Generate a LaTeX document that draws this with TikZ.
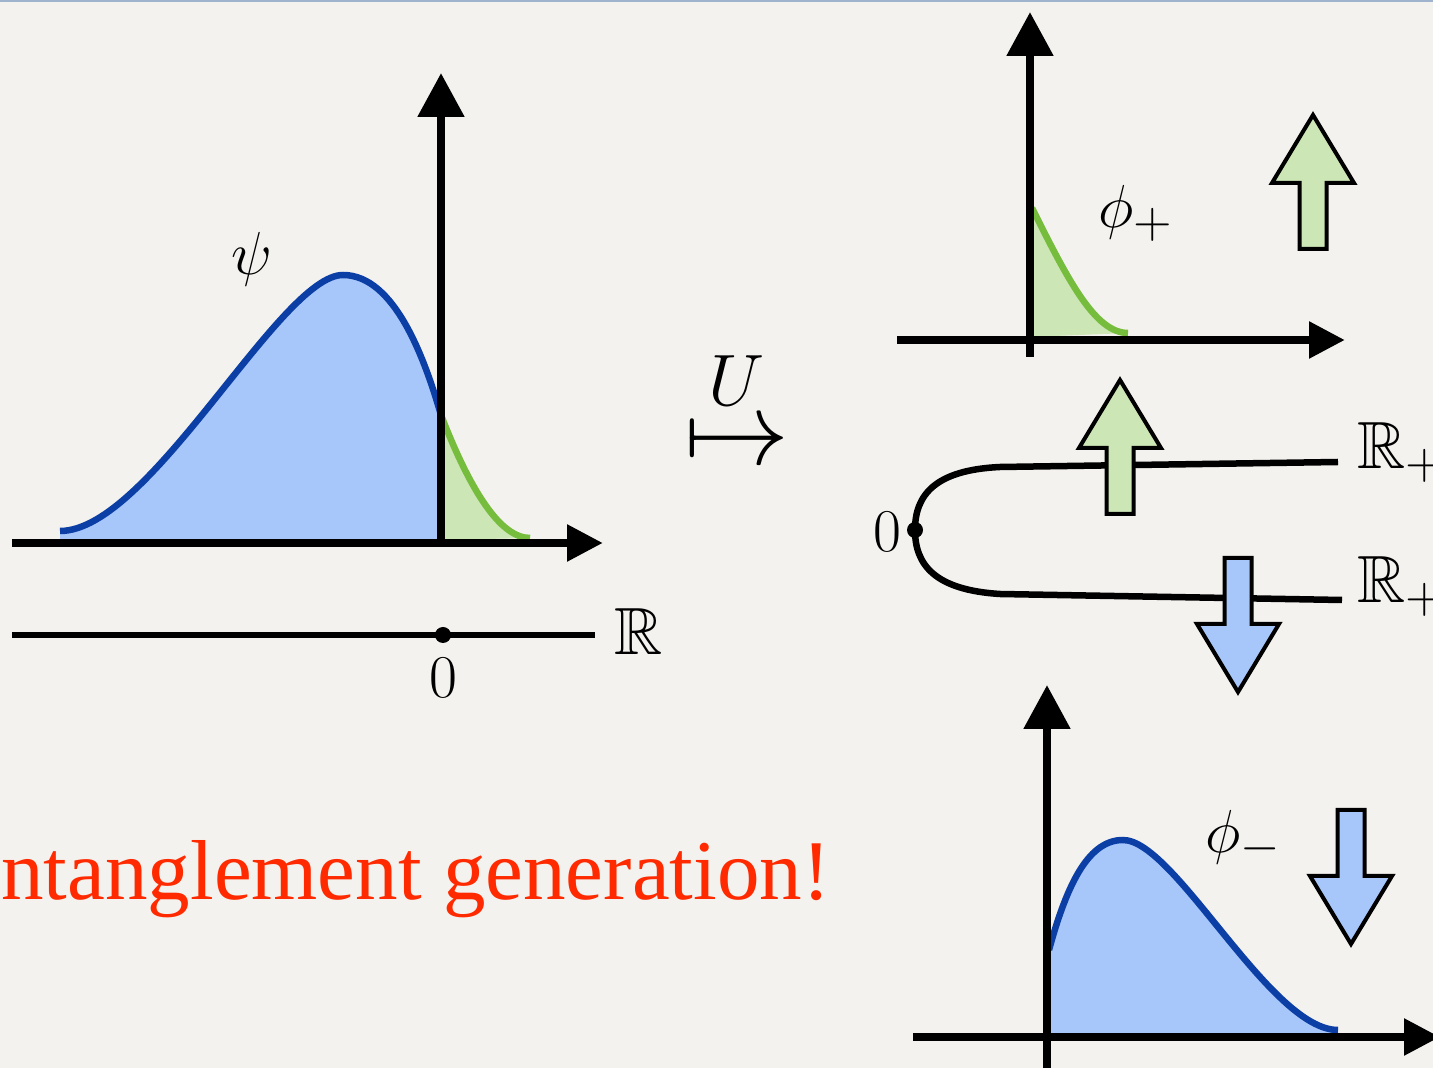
\documentclass[tikz,border=0pt]{standalone}
\usepackage{amsmath, amssymb}
\usepackage{graphicx}
\usepackage{fontspec}
\newfontfamily\slidefont{Liberation Serif}
\usepackage{tikz}
\usetikzlibrary{arrows.meta}

\definecolor{paper}{HTML}{F4F2EE}
\definecolor{rimblue}{HTML}{9FB3CE}
\definecolor{psiblue}{HTML}{0B3FA6}
\definecolor{psifill}{HTML}{A7C6FA}
\definecolor{phigreen}{HTML}{76BD3E}
\definecolor{phifill}{HTML}{CDE6B6}
\definecolor{slidered}{HTML}{FF2A00}

\tikzset{
  axis/.style={line width=0.85mm, -{Triangle[length=4.4mm, width=4.5mm]}},
  flataxis/.style={line width=0.85mm, -{Triangle[length=3.6mm, width=3.5mm]}},
  halfline/.style={line width=0.65mm},
  wave/.style={line width=0.65mm},
  blockarrow/.style={line width=0.4mm, draw=black, line join=miter},
  lbl/.style={inner sep=0pt, font=\fontsize{19}{22}\selectfont},
}

\begin{document}
\begin{tikzpicture}[x=0.1mm, y=-0.1mm]
  \clip (0,0) rectangle (1433,1068);
  \fill[paper] (0,0) rectangle (1433,1068);
  \fill[rimblue] (0,0) rectangle (1433,2);

  % psi on the real line
  \fill[psifill] (60,540) -- (60,531) .. controls (150,531) and (280,275) .. (343,275)
    .. controls (395,275) and (425,360) .. (441,415) -- (441,540) -- cycle;
  \fill[phifill] (441,540) -- (441,415) .. controls (470,490) and (500,538) .. (530,538) -- cycle;
  \draw[wave, psiblue] (60,531) .. controls (150,531) and (280,275) .. (343,275)
    .. controls (395,275) and (425,360) .. (441,415);
  \draw[wave, phigreen] (441,415) .. controls (470,490) and (500,538) .. (530,538);
  \draw[flataxis] (12,543) -- (603,543);
  \draw[axis] (441,543) -- (441,73);
  \node[lbl, anchor=base] (psi) at (252,275) {$\psi$};

  % the real line with its origin
  \draw[halfline] (12,635) -- (595,635);
  \fill (443,635) circle (8);
  \node[lbl, anchor=base] (zeroL) at (443,698) {$0$};
  \node[lbl, anchor=base west] (realL) at (614,655) {$\mathbb{R}$};

  % the map U
  \node[inner sep=0pt, font=\fontsize{30}{33}\selectfont] (mapU) at (737,405)
    {$\overset{U}{\scalebox{1.2}{$\mapsto$}}$};

  % phi_+ on the upper half line
  \fill[phifill] (1030,337) -- (1030,205) .. controls (1068,280) and (1095,333) .. (1128,333) -- cycle;
  \draw[wave, phigreen] (1032,208) .. controls (1068,280) and (1095,333) .. (1128,333);
  \draw[flataxis] (897,340) -- (1345,340);
  \draw[axis] (1030,357) -- (1030,12);
  \node[lbl, anchor=base west] (phiP) at (1098,228) {$\phi_+$};

  % two half lines glued at 0
  \coordinate (glue) at (915,530);
  \draw[halfline] (1338,462) -- (1000,467) .. controls (935,470) and (915,495) .. (glue)
    .. controls (915,565) and (935,590) .. (1000,594) -- (1342,600);
  \fill (glue) circle (8);
  \node[lbl, anchor=base] (zeroM) at (887,552) {$0$};
  \node[lbl, anchor=base west] (realP) at (1357,469) {$\mathbb{R}_+$};
  \node[lbl, anchor=base west] (realM) at (1357,603) {$\mathbb{R}_+$};

  % phi_- on the lower half line
  \fill[psifill] (1047,1035) -- (1047,950) .. controls (1068,880) and (1090,840) .. (1123,840)
    .. controls (1175,840) and (1270,1030) .. (1338,1030) -- (1338,1035) -- cycle;
  \draw[wave, psiblue] (1049,950) .. controls (1068,880) and (1090,840) .. (1123,840)
    .. controls (1175,840) and (1270,1030) .. (1338,1030);
  \draw[flataxis] (913,1037) -- (1440,1037);
  \draw[axis] (1047,1068) -- (1047,685);
  \node[lbl, anchor=base west] (phiM) at (1205,852) {$\phi_-$};

  % spin arrows
  \foreach \cx/\ty/\s/\col in {1313/115/1/phifill, 1120/380/1/phifill, 1238/692/-1/psifill, 1351/944/-1/psifill}
    \draw[blockarrow, fill=\col] (\cx,\ty) -- ++(41,68*\s) -- ++(-27.5,0) -- ++(0,66*\s)
      -- ++(-27,0) -- ++(0,-66*\s) -- ++(-27.5,0) -- cycle;

  \node[inner sep=0pt, anchor=base east, text=slidered, font=\slidefont\fontsize{24.2}{28}\selectfont]
    (slogan) at (831,900) {Entanglement generation!};
\end{tikzpicture}
\end{document}
